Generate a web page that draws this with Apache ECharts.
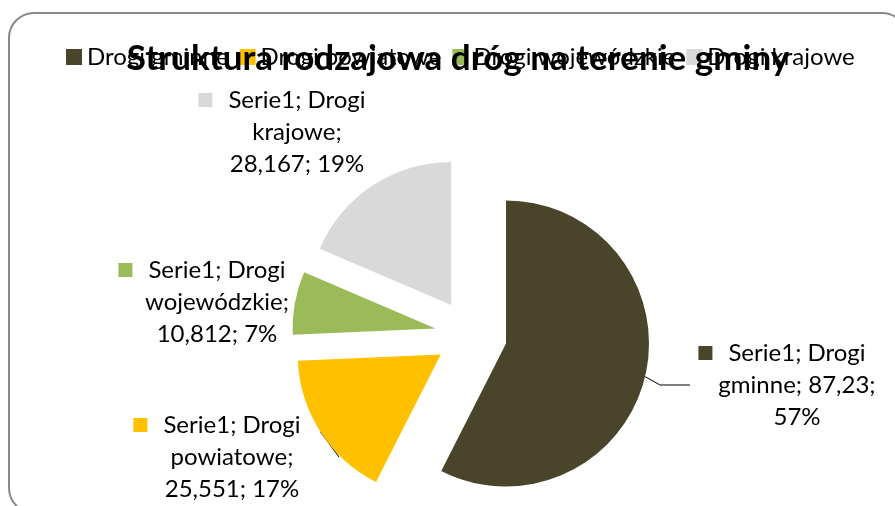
<!DOCTYPE html>
<html>
<head>
<meta charset="utf-8">
<script src="https://cdn.jsdelivr.net/npm/echarts@6/dist/echarts.min.js"></script>
<style>
html, body { margin: 0; padding: 0; background: #fff; }
#chart { width: 895px; height: 506px; }
</style>
</head>
<body>
<div id="chart"></div>
<script>
// data
var seriesName = 'Serie1';
var categories = ['Drogi gminne', 'Drogi powiatowe', 'Drogi wojewódzkie', 'Drogi krajowe'];
var values = [87.23, 25.551, 10.812, 28.167];
var titleText = 'Struktura rodzajowa dróg na terenie gminy';

// look
var colors = ['#4A452A', '#FFC000', '#9BBB59', '#D9D9D9'];
var labelAnchors = [[797, 385], [232, 457], [217, 302], [297, 132]];
var showLeader = [true, true, false, false];
var font = 'Lato, "Noto Sans", sans-serif';
var pieCenter = [471, 335];
var pieRadius = 143;
var explode = 36;

var total = 0;
values.forEach(function (v) { total += v; });

var rich = { gap: { width: 16 }, gap2: { width: 30 } };
colors.forEach(function (c, i) {
    rich['k' + i] = { width: 14, height: 14, backgroundColor: c };
});

// excel style text: "Serie1; Drogi gminne; 87,23; 57%" wrapped to short lines
function labelText(p) {
    var pct = Math.round(p.value / total * 100);
    var words = (seriesName + '; ' + p.name + '; ' + String(p.value).replace('.', ',') + '; ' + pct + '%').split(' ');
    var lines = [], cur = '';
    words.forEach(function (w) {
        if (!cur) cur = w;
        else if ((cur + ' ' + w).length <= 14) cur += ' ' + w;
        else { lines.push(cur); cur = w; }
    });
    lines.push(cur);
    lines[0] = '{k' + p.dataIndex + '|}{gap|}' + lines[0] + '{gap2|}';
    return lines.join('\n');
}

// exploded slices (selected state)
var pieData = categories.map(function (name, i) {
    return { name: name, value: values[i], selected: true };
});

// same slices, invisible, only carrying the labels
// (labelLayout gets overridden by the select state on the real ones)
var labelData = categories.map(function (name, i) {
    return { name: name, value: values[i], labelLine: { show: showLeader[i] } };
});

var chart = echarts.init(document.getElementById('chart'));
chart.setOption({
    animation: false,
    color: colors,
    graphic: [{
        type: 'rect',
        shape: { x: 9, y: 13, width: 898, height: 500, r: 25 },
        style: { fill: 'none', stroke: '#898989', lineWidth: 2 },
        z: -1
    }],
    title: {
        text: titleText,
        left: 458,
        textAlign: 'center',
        top: 41,
        padding: 0,
        z: 10,
        textStyle: { fontFamily: font, fontSize: 35, fontWeight: 'bold', color: '#000' }
    },
    legend: {
        data: categories,
        left: 66,
        top: 45,
        padding: 0,
        itemWidth: 16,
        itemHeight: 16,
        itemGap: 11,
        icon: 'rect',
        z: 1,
        textStyle: { fontFamily: font, fontSize: 24, color: '#000' }
    },
    series: [{
        name: seriesName,
        type: 'pie',
        center: pieCenter,
        radius: pieRadius,
        startAngle: 90,
        clockwise: true,
        selectedMode: 'multiple',
        selectedOffset: explode,
        data: pieData,
        label: { show: false },
        labelLine: { show: false },
        emphasis: { disabled: true },
        silent: true
    }, {
        name: seriesName,
        type: 'pie',
        center: pieCenter,
        radius: pieRadius + explode,
        startAngle: 90,
        clockwise: true,
        data: labelData,
        itemStyle: { color: 'rgba(0,0,0,0)' },
        silent: true,
        emphasis: { disabled: true },
        label: {
            formatter: labelText,
            fontFamily: font,
            fontSize: 24,
            lineHeight: 32,
            color: '#000',
            align: 'center',
            padding: [0, 4],
            rich: rich
        },
        labelLine: {
            lineStyle: { color: '#000', width: 1 }
        },
        labelLayout: function (p) {
            var a = labelAnchors[p.dataIndex];
            return { x: a[0], y: a[1], width: 206, align: 'center', verticalAlign: 'middle' };
        }
    }]
});
</script>
</body>
</html>
